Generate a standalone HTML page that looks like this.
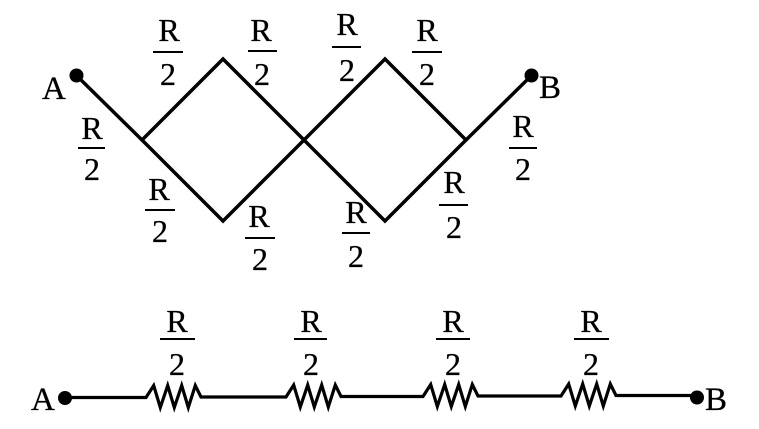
<!DOCTYPE html>
<html><head><meta charset="utf-8"><style>
html,body{margin:0;padding:0;background:#fff;}
svg{display:block;}
text{font-family:"Liberation Serif","Times New Roman",serif;fill:#000;stroke:#000;stroke-width:0.3;}
</style></head><body>
<svg width="759" height="429" viewBox="0 0 759 429" xmlns="http://www.w3.org/2000/svg" font-family="Liberation Serif, serif">
<g stroke="#000" stroke-width="3.5" fill="none" stroke-linejoin="miter">
<line x1="77" y1="76" x2="142" y2="140"/>
<polygon points="142,140 223,59 304,140 223,221"/>
<polygon points="304,140 385,59 466,140 385,221"/>
<line x1="466" y1="140" x2="531" y2="76"/>
</g>
<circle cx="76.5" cy="75.5" r="7" fill="#000"/>
<circle cx="531.5" cy="75.5" r="7" fill="#000"/>
<text x="42" y="99" font-size="33">A</text>
<text x="539" y="98" font-size="33">B</text>
<g font-size="32" text-anchor="middle">
<text x="169" y="41">R</text><rect x="153" y="51" width="30" height="2"/><text x="168" y="85">2</text>
<text x="261" y="41">R</text><rect x="248" y="50" width="29" height="2"/><text x="262" y="85">2</text>
<text x="347" y="35">R</text><rect x="332" y="46" width="29" height="2"/><text x="347" y="81">2</text>
<text x="427" y="41">R</text><rect x="412" y="51" width="30" height="2"/><text x="427" y="85">2</text>
<text x="92" y="139">R</text><rect x="78" y="147" width="27" height="2"/><text x="92" y="180">2</text>
<text x="523" y="137">R</text><rect x="509" y="147" width="28" height="2"/><text x="523" y="180">2</text>
<text x="159" y="200">R</text><rect x="145" y="209" width="30" height="2"/><text x="160" y="242">2</text>
<text x="259" y="227">R</text><rect x="245" y="237" width="30" height="2"/><text x="260" y="270">2</text>
<text x="356" y="223">R</text><rect x="342" y="232" width="28" height="2"/><text x="356" y="267">2</text>
<text x="454" y="193">R</text><rect x="439" y="204" width="29" height="2"/><text x="454" y="238">2</text>
</g>
<g stroke="#000" stroke-width="3.2" fill="none" stroke-linejoin="miter">
<path d="M65,397.5 H146 l7.7,-12 l6.6,22 l7.4,-22 l6.6,22 l7.4,-22 l6.6,22 l7,-22 l5.7,11.5
H286 l7.7,-12 l6.6,22 l7.4,-22 l6.6,22 l7.4,-22 l6.6,22 l7,-22 l5.7,11.5
H423 l7.7,-12 l6.6,22 l7.4,-22 l6.6,22 l7.4,-22 l6.6,22 l7,-22 l5.7,11.5
H561 l7.7,-12 l6.6,22 l7.4,-22 l6.6,22 l7.4,-22 l6.6,22 l7,-22 l5.7,11.5
H697"/>
</g>
<circle cx="65" cy="398" r="7" fill="#000"/>
<circle cx="697" cy="397.5" r="7" fill="#000"/>
<text x="31" y="410" font-size="33">A</text>
<text x="705" y="410" font-size="33">B</text>
<g font-size="32" text-anchor="middle">
<text x="177" y="332">R</text><rect x="160" y="338" width="35" height="2"/><text x="177" y="375">2</text>
<text x="311" y="332">R</text><rect x="294" y="338" width="33" height="2"/><text x="311" y="375">2</text>
<text x="453" y="332">R</text><rect x="436" y="338" width="34" height="2"/><text x="453" y="375">2</text>
<text x="591" y="332">R</text><rect x="574" y="338" width="35" height="2"/><text x="591" y="375">2</text>
</g>
</svg>
</body></html>
